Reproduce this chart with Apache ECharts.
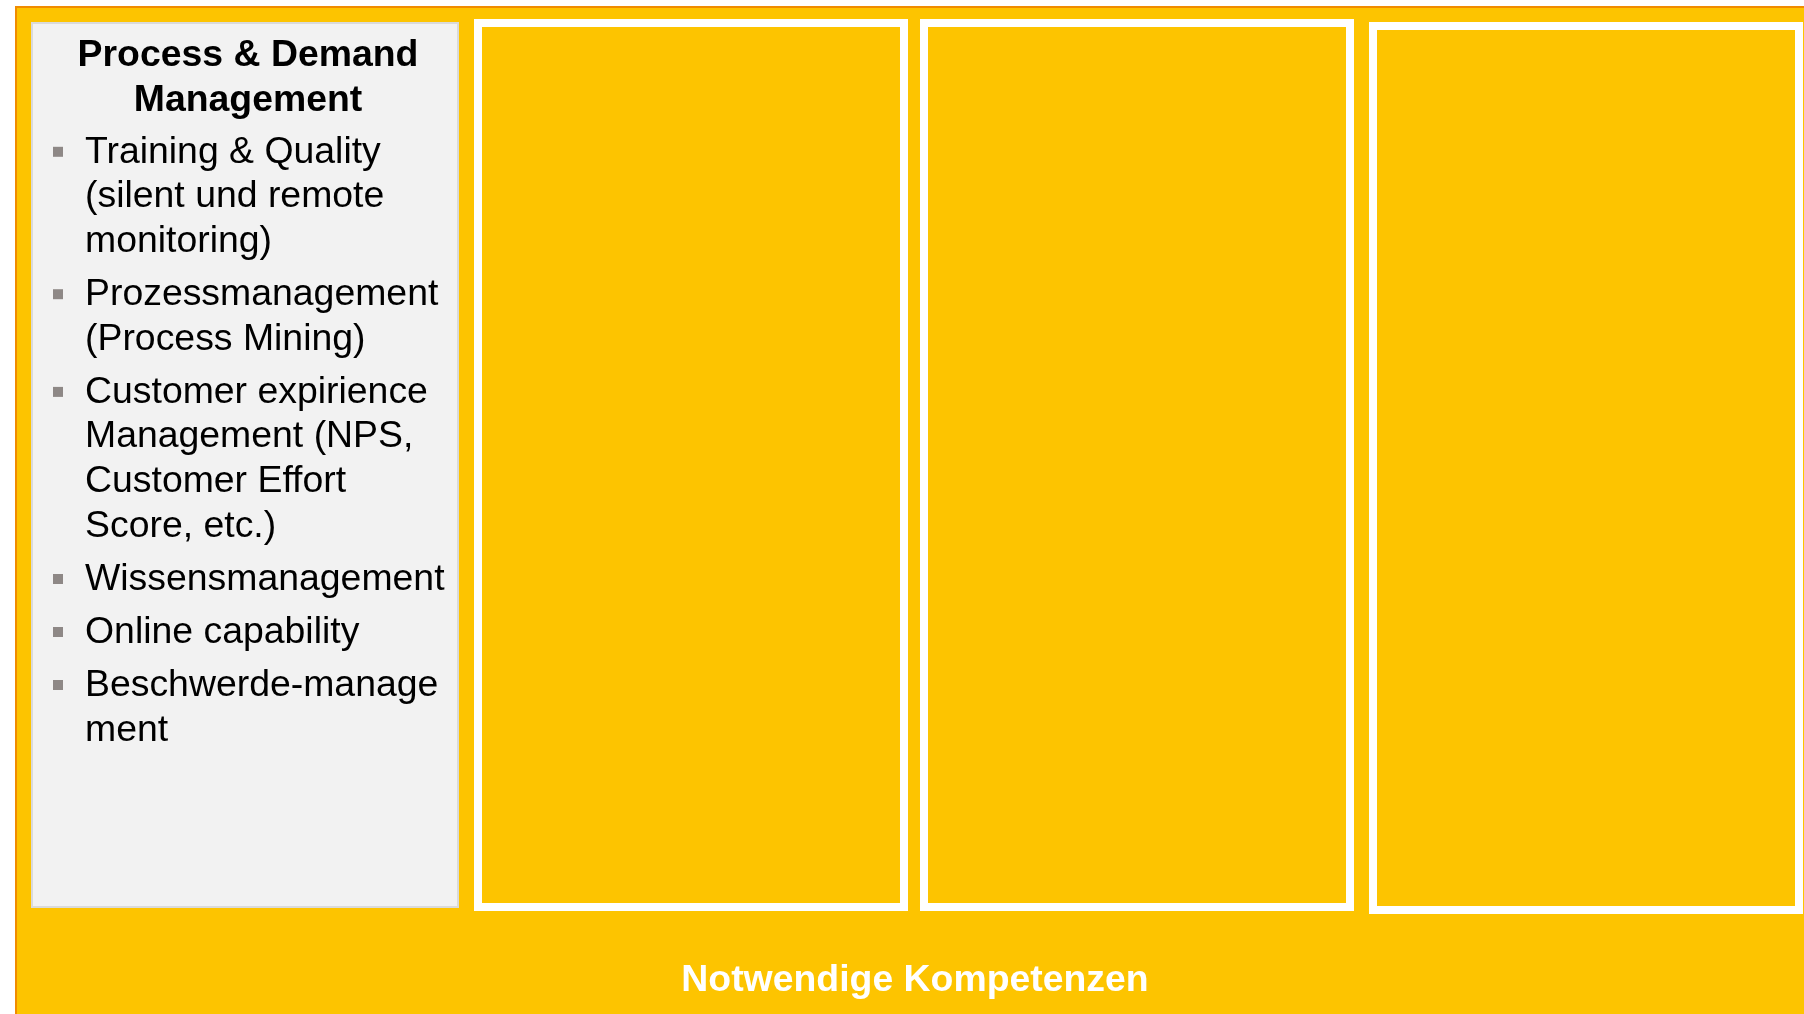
<!DOCTYPE html>
<html>
<head>
<meta charset="utf-8">
<script src="https://cdn.jsdelivr.net/npm/echarts@6/dist/echarts.min.js"></script>
<style>
html, body { margin: 0; padding: 0; background: #fff; }
#main { width: 1804px; height: 1014px; }
</style>
</head>
<body>
<div id="main"></div>
<script>
// Texte der Folie
var panelTitle = ['Process & Demand', 'Management'];
var bulletItems = [
    ['Training & Quality', '(silent und remote', 'monitoring)'],
    ['Prozessmanagement', '(Process Mining)'],
    ['Customer expirience', 'Management (NPS,', 'Customer Effort', 'Score, etc.)'],
    ['Wissensmanagement'],
    ['Online capability'],
    ['Beschwerde-manage', 'ment']
];
var footerLabel = 'Notwendige Kompetenzen';
// drei leere Kästen rechts (linke Kante, obere Kante)
var boxLeft = [478, 924, 1373];
var boxTop = [23, 23, 26];

var FONT = '"Liberation Sans", Arial, sans-serif';
var fs = 37.4;
var lineH = 44.7;
var itemGap = 8.3;

function textEl(str, x, baseline, opts) {
    return {
        type: 'text',
        x: x,
        y: baseline - 0.3465 * fs + 2,
        z: 10,
        style: {
            text: str,
            font: (opts.bold ? 'bold ' : '') + fs + 'px ' + FONT,
            fill: opts.color || '#000',
            textAlign: opts.align || 'left',
            align: opts.align || 'left',
            textVerticalAlign: 'middle',
            verticalAlign: 'middle'
        }
    };
}

function buildGraphic() {
    var els = [];
    // gelber Hintergrund mit oranger Kante
    els.push({
        type: 'rect', z: 1,
        shape: { x: 16, y: 7, width: 1800, height: 1020 },
        style: { fill: '#FDC400', stroke: '#F08C00', lineWidth: 2 }
    });
    // graues Feld links
    els.push({
        type: 'rect', z: 2,
        shape: { x: 32, y: 23, width: 426, height: 884 },
        style: { fill: '#F2F2F2', stroke: '#DADADA', lineWidth: 2 }
    });
    // weiße Rahmen
    for (var b = 0; b < boxLeft.length; b++) {
        els.push({
            type: 'rect', z: 2,
            shape: { x: boxLeft[b], y: boxTop[b], width: 426, height: 884 },
            style: { fill: 'none', stroke: '#FFFFFF', lineWidth: 8 }
        });
    }
    // Titel
    for (var t = 0; t < panelTitle.length; t++) {
        els.push(textEl(panelTitle[t], 248, 66.5 + t * 45, { bold: true, align: 'center' }));
    }
    // Aufzählung
    var base = 163.3;
    for (var i = 0; i < bulletItems.length; i++) {
        els.push({
            type: 'rect', z: 10,
            shape: { x: 53, y: base - 16.5, width: 10, height: 10 },
            style: { fill: '#8E8886' }
        });
        for (var j = 0; j < bulletItems[i].length; j++) {
            els.push(textEl(bulletItems[i][j], 85, base, {}));
            base += lineH;
        }
        base += itemGap;
    }
    // Fußzeile
    els.push(textEl(footerLabel, 915, 992, { bold: true, align: 'center', color: '#FFFFFF' }));
    return els;
}

var dom = document.getElementById('main');
var myChart = echarts.init(dom, null, { renderer: 'canvas' });
myChart.setOption({
    animation: false,
    graphic: { elements: buildGraphic() }
});
</script>
</body>
</html>
